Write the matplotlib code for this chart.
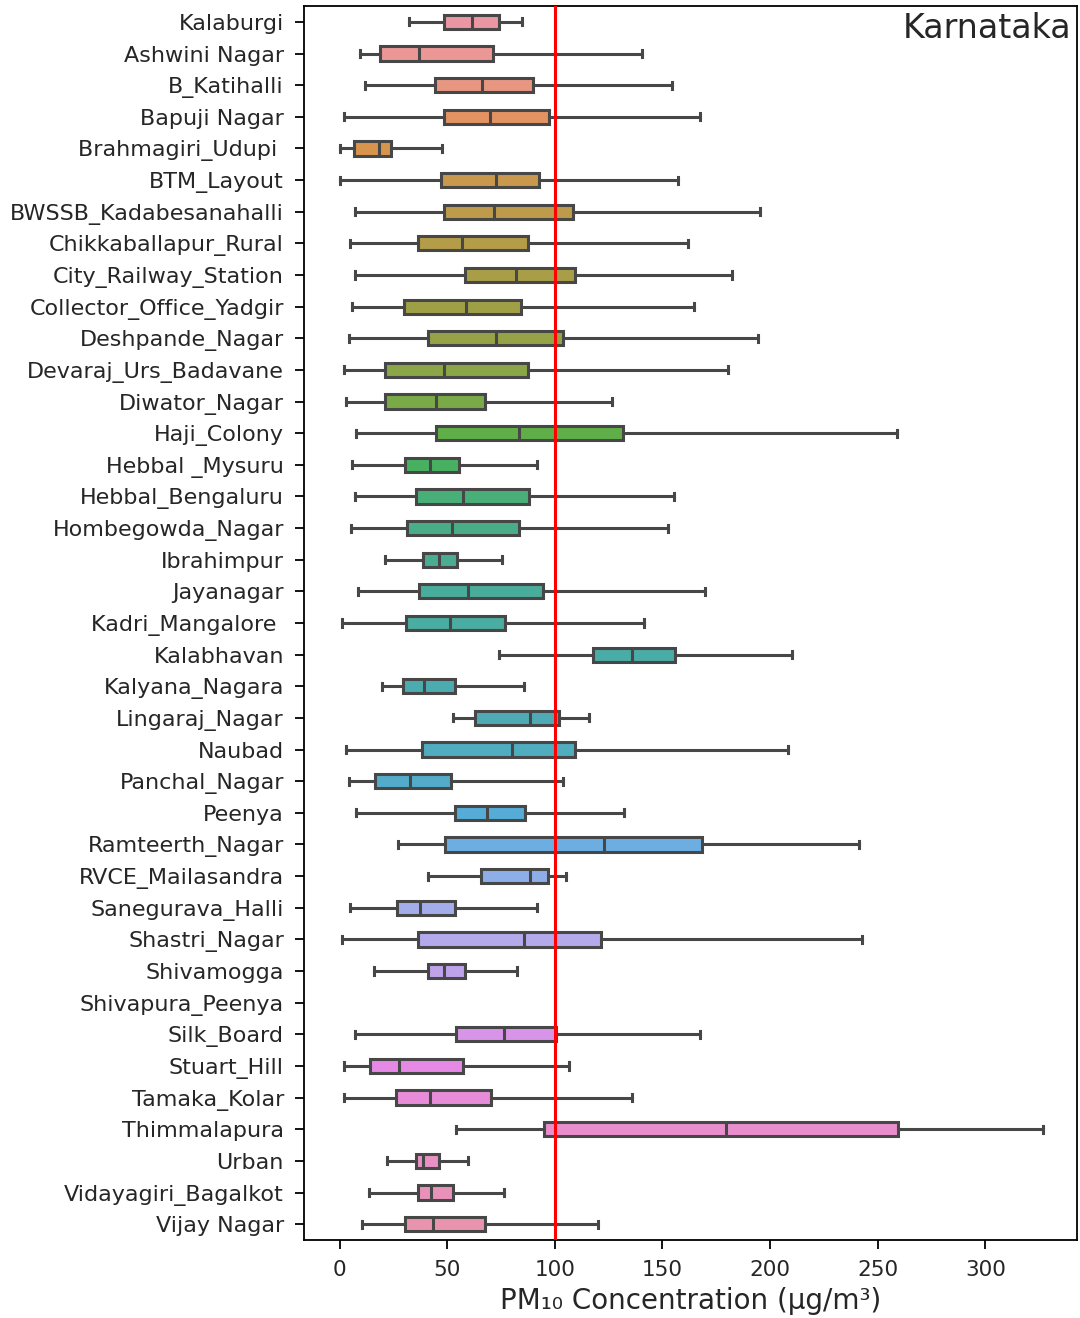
import matplotlib
matplotlib.use('Agg')
import matplotlib.pyplot as plt
import seaborn as sns

stations = ['Kalaburgi', 'Ashwini Nagar', 'B_Katihalli', 'Bapuji Nagar', 'Brahmagiri_Udupi ',
            'BTM_Layout', 'BWSSB_Kadabesanahalli', 'Chikkaballapur_Rural', 'City_Railway_Station',
            'Collector_Office_Yadgir', 'Deshpande_Nagar', 'Devaraj_Urs_Badavane', 'Diwator_Nagar',
            'Haji_Colony', 'Hebbal _Mysuru', 'Hebbal_Bengaluru', 'Hombegowda_Nagar', 'Ibrahimpur',
            'Jayanagar', 'Kadri_Mangalore ', 'Kalabhavan', 'Kalyana_Nagara', 'Lingaraj_Nagar',
            'Naubad', 'Panchal_Nagar', 'Peenya', 'Ramteerth_Nagar', 'RVCE_Mailasandra',
            'Sanegurava_Halli', 'Shastri_Nagar', 'Shivamogga', 'Shivapura_Peenya', 'Silk_Board',
            'Stuart_Hill', 'Tamaka_Kolar', 'Thimmalapura', 'Urban', 'Vidayagiri_Bagalkot', 'Vijay Nagar']

# five-number summaries (None = no data)
whis_lo = [32.5, 9.6, 11.6, 2.0, 0.3, 0.0, 7.0, 5.0, 7.0, 5.9, 4.2, 2.3, 3.1, 7.7, 5.9, 7.0, 5.1, 20.9,
           8.8, 1.2, 73.9, 19.8, 52.6, 3.1, 4.3, 7.7, 27.1, 41.0, 5.0, 1.2, 16.2, None, 7.0, 2.3, 2.3,
           54.1, 22.0, 13.6, 10.5]
q1 = [48.5, 18.6, 44.5, 48.3, 6.5, 47.2, 48.3, 36.3, 58.3, 29.9, 41.0, 21.3, 21.3, 44.9, 30.6, 35.3,
      31.4, 39.0, 37.1, 31.0, 117.9, 29.7, 63.1, 38.2, 16.7, 53.8, 49.2, 65.7, 26.8, 36.3, 41.0, None,
      54.1, 14.2, 26.3, 94.9, 35.6, 36.3, 30.2]
med = [61.6, 36.7, 66.2, 69.9, 18.2, 72.7, 71.9, 56.9, 82.0, 58.8, 72.7, 48.7, 44.9, 83.2, 42.2, 57.2,
       52.3, 46.1, 59.9, 51.4, 136.1, 39.4, 88.5, 80.0, 32.9, 68.4, 123.0, 88.5, 37.6, 85.5, 48.7, None,
       76.6, 27.4, 42.2, 179.4, 39.0, 42.5, 43.3]
q3 = [74.2, 71.2, 90.0, 97.4, 24.0, 92.8, 108.6, 87.4, 109.5, 84.3, 103.6, 87.4, 67.7, 131.5, 55.7,
      88.2, 83.5, 54.8, 94.7, 76.9, 155.9, 53.7, 101.8, 109.5, 51.8, 86.3, 168.4, 96.7, 53.7, 121.4,
      58.3, None, 100.5, 57.2, 70.4, 259.6, 46.4, 52.9, 67.6]
whis_hi = [84.8, 140.5, 154.5, 167.5, 47.6, 157.3, 195.4, 162.0, 182.2, 164.7, 194.4, 180.5, 126.8,
           259.0, 91.6, 155.5, 152.7, 75.5, 169.8, 141.5, 210.2, 85.8, 115.7, 208.4, 103.6, 132.3,
           241.3, 105.2, 91.6, 242.7, 82.3, None, 167.5, 106.4, 136.1, 326.7, 59.9, 76.6, 120.2]

standard = 100
state = 'Karnataka'

colors = [sns.desaturate(c, 0.75) for c in sns.husl_palette(len(stations), l=0.7)]
edge = '#474747'

fig = plt.figure(figsize=(10.8, 13.18), dpi=100)
ax = fig.add_axes([0.2815, 0.0592, 0.7155, 0.9362])

stats, pos, fills = [], [], []
for i, name in enumerate(stations):
    if med[i] is None:
        continue
    stats.append(dict(whislo=whis_lo[i], q1=q1[i], med=med[i], q3=q3[i], whishi=whis_hi[i], label=name))
    pos.append(i)
    fills.append(colors[i])

bp = ax.bxp(stats, positions=pos, widths=0.45, orientation='horizontal', patch_artist=True,
            showfliers=False, manage_ticks=False,
            boxprops=dict(edgecolor=edge, linewidth=2.2),
            medianprops=dict(color=edge, linewidth=2.2),
            whiskerprops=dict(color=edge, linewidth=2.2),
            capprops=dict(color=edge, linewidth=2.2))
for patch, c in zip(bp['boxes'], fills):
    patch.set_facecolor(c)

ax.axvline(standard, color='red', linewidth=2.2, zorder=5)

ax.set_yticks(range(len(stations)))
ax.set_yticklabels(stations, fontsize=16, color='#262626')
ax.set_ylim(len(stations) - 0.5, -0.5)
ax.set_xlim(-16.5, 342.5)
ax.set_xticks([0, 50, 100, 150, 200, 250, 300])
ax.tick_params(axis='both', length=6.5, width=1.3)
ax.tick_params(axis='y', pad=8)
ax.tick_params(axis='x', labelsize=15.5, labelcolor='#262626', pad=8)
for s in ax.spines.values():
    s.set_linewidth(1.3)
ax.set_xlabel('PM₁₀ Concentration (µg/m³)', fontsize=20, color='#262626', labelpad=5)
ax.text(0.993, 0.995, state, transform=ax.transAxes, ha='right', va='top', fontsize=24, color='#262626')

plt.savefig('out.png', dpi=100)
